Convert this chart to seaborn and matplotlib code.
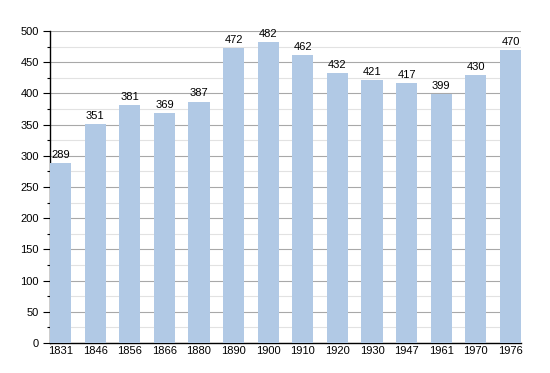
import matplotlib
matplotlib.use("Agg")
import matplotlib.pyplot as plt
from matplotlib.ticker import MultipleLocator
import seaborn as sns
import pandas as pd

years = ["1831", "1846", "1856", "1866", "1880", "1890", "1900", "1910",
         "1920", "1930", "1947", "1961", "1970", "1976"]
population = [289, 351, 381, 369, 387, 472, 482, 462, 432, 421, 417, 399, 430, 470]

df = pd.DataFrame({"year": years, "pop": population})

sns.set_style("white")
plt.rcParams['font.family'] = ['Liberation Sans', 'DejaVu Sans']
plt.rcParams['text.color'] = 'black'
plt.rcParams['xtick.color'] = 'black'
plt.rcParams['ytick.color'] = 'black'

fig = plt.figure(figsize=(5.5, 3.73), dpi=100)
ax = fig.add_axes([50/550, 30/373, 471/550, 312/373])

bw = 0.61
sns.barplot(data=df, x="year", y="pop", color="#b1c9e5", saturation=1,
            width=bw, ax=ax, zorder=3, linewidth=0)

ax.set_xlim(-bw/2, len(years) - 1 + bw/2)
ax.set_ylim(0, 500)
ax.yaxis.set_major_locator(MultipleLocator(50))
ax.yaxis.set_minor_locator(MultipleLocator(25))
ax.grid(which="major", axis="y", color="#a8a8a8", linewidth=0.8, zorder=0)
ax.grid(which="minor", axis="y", color="#e2e2e2", linewidth=0.8, zorder=0)
ax.set_axisbelow(True)

for s in ["top", "right"]:
    ax.spines[s].set_visible(False)
for s in ["left", "bottom"]:
    ax.spines[s].set_color("black")
    ax.spines[s].set_linewidth(1.0)

ax.tick_params(axis="y", which="major", length=5, width=0.8, color="black",
               labelsize=8, pad=3, left=True, labelcolor="black")
ax.tick_params(axis="y", which="minor", length=2.5, width=0.8, color="black", left=True)
ax.tick_params(axis="x", length=0, labelsize=8, pad=2, labelcolor="black")
ax.set_xlabel("")
ax.set_ylabel("")

for i, v in enumerate(population):
    ax.text(i, v + 5, str(v), ha="center", va="bottom", fontsize=8,
            color="black", zorder=4)

fig.savefig("out.png", dpi=100)
